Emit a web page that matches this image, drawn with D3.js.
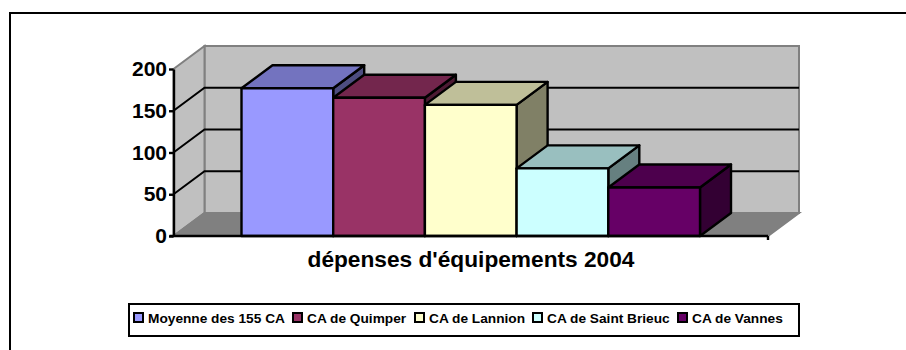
<!DOCTYPE html>
<html>
<head>
<meta charset="utf-8">
<script src="https://cdn.jsdelivr.net/npm/d3@7"></script>
<style>
html, body { margin: 0; padding: 0; background: #fff; overflow: hidden; }
svg { display: block; font-family: "Liberation Sans", Arial, sans-serif; font-weight: bold; }
</style>
</head>
<body>
<svg id="chart" width="906" height="350"></svg>
<script>
// Data
const seriesNames = ['Moyenne des 155 CA', 'CA de Quimper', 'CA de Lannion', 'CA de Saint Brieuc', 'CA de Vannes'];
const seriesValues = [177, 165.5, 157, 81, 58];
const seriesColors = ['#9999ff', '#993366', '#ffffcc', '#ccffff', '#660066'];
const yTicks = [0, 50, 100, 150, 200];
const titleText = "dépenses d'équipements 2004";

// Layout
const width = 906, height = 350;
const front = {left: 173.5, right: 768, top: 69, bottom: 236};
const depth = {x: 31, y: 23};
const svg = d3.select('#chart');

const y = d3.scaleLinear().domain([0, 200]).range([front.bottom, front.top]);
const x = d3.scaleBand().domain(seriesNames)
    .range([front.left + 68, front.right - 68]);

const poly = pts => pts.map(p => p.join(',')).join(' ');
const shade = (c, k) => {
    const o = d3.rgb(c);
    return d3.rgb(o.r * k, o.g * k, o.b * k).formatHex();
};

// Outer frame, only top and left are in the picture
svg.append('path')
    .attr('d', d3.line()([[10, height], [10, 13], [width, 13]]))
    .attr('fill', 'none').attr('stroke', '#000').attr('stroke-width', 2);

// Walls and floor
const wallG = svg.append('g').attr('stroke', '#808080').attr('stroke-width', 2).attr('stroke-linejoin', 'miter');
wallG.append('polygon')
    .attr('points', poly([[front.left + depth.x, front.top - depth.y], [front.right + depth.x, front.top - depth.y],
        [front.right + depth.x, front.bottom - depth.y], [front.left + depth.x, front.bottom - depth.y]]))
    .attr('fill', '#c0c0c0');
wallG.append('polygon')
    .attr('points', poly([[front.left, front.top], [front.left + depth.x, front.top - depth.y],
        [front.left + depth.x, front.bottom - depth.y], [front.left, front.bottom]]))
    .attr('fill', '#c0c0c0');
wallG.append('polygon')
    .attr('points', poly([[front.left, front.bottom], [front.left + depth.x, front.bottom - depth.y],
        [front.right + depth.x, front.bottom - depth.y], [front.right, front.bottom]]))
    .attr('fill', '#808080');

// Gridlines
const grid = svg.append('g').attr('fill', 'none').attr('stroke', '#000').attr('stroke-width', 2);
yTicks.filter(d => d > 0 && d < 200).forEach(d => {
    grid.append('path').attr('d', d3.line()([
        [front.left, y(d)],
        [front.left + depth.x, y(d) - depth.y],
        [front.right + depth.x, y(d) - depth.y]
    ]));
});

// Bars, left to right so the next one covers the previous side
const bars = svg.append('g').attr('stroke', '#000').attr('stroke-width', 2.4).attr('stroke-linejoin', 'round');
seriesNames.forEach((name, i) => {
    const x0 = x(name), x1 = x0 + x.bandwidth();
    const yTop = y(seriesValues[i]), yBase = y(0);
    const c = seriesColors[i];
    bars.append('polygon')
        .attr('points', poly([[x1, yTop], [x1 + depth.x, yTop - depth.y], [x1 + depth.x, yBase - depth.y], [x1, yBase]]))
        .attr('fill', shade(c, 0.5));
    bars.append('polygon')
        .attr('points', poly([[x0, yTop], [x0 + depth.x, yTop - depth.y], [x1 + depth.x, yTop - depth.y], [x1, yTop]]))
        .attr('fill', shade(c, 0.75));
    bars.append('rect')
        .attr('x', x0).attr('y', yTop)
        .attr('width', x.bandwidth()).attr('height', yBase - yTop)
        .attr('fill', c);
});

// Axes
const yAxis = d3.axisLeft(y).tickValues(yTicks).tickSize(4.5).tickSizeOuter(0).tickPadding(2);
const gy = svg.append('g')
    .attr('transform', `translate(${front.left},0)`)
    .call(yAxis);
gy.selectAll('path, line').attr('stroke', '#000').attr('stroke-width', 2.4);
gy.selectAll('text').attr('fill', '#000')
    .style('font-family', '"Liberation Sans", Arial, sans-serif')
    .style('font-weight', 'bold').style('font-size', '21px');

const gx = svg.append('g').attr('stroke', '#000').attr('stroke-width', 2.4);
gx.append('line').attr('x1', front.left - 4).attr('x2', front.right).attr('y1', front.bottom).attr('y2', front.bottom);
gx.append('line').attr('x1', front.right).attr('x2', front.right).attr('y1', front.bottom).attr('y2', front.bottom + 4);

// Title
svg.append('text')
    .attr('x', 471).attr('y', 267)
    .attr('text-anchor', 'middle')
    .style('font-size', '22.7px')
    .text(titleText);

// Legend
svg.append('rect')
    .attr('x', 129).attr('y', 304).attr('width', 670).attr('height', 32)
    .attr('fill', '#fff').attr('stroke', '#000').attr('stroke-width', 2);

const legendX = [134, 293, 415, 533, 678];
const legend = svg.selectAll('g.legend').data(seriesNames).join('g')
    .attr('class', 'legend')
    .attr('transform', (d, i) => `translate(${legendX[i]},313)`);
legend.append('rect')
    .attr('width', 9).attr('height', 9)
    .attr('fill', (d, i) => seriesColors[i])
    .attr('stroke', '#000').attr('stroke-width', 2);
legend.append('text')
    .attr('x', 14).attr('y', 9.5)
    .style('font-size', '13.7px')
    .text(d => d);
</script>
</body>
</html>
